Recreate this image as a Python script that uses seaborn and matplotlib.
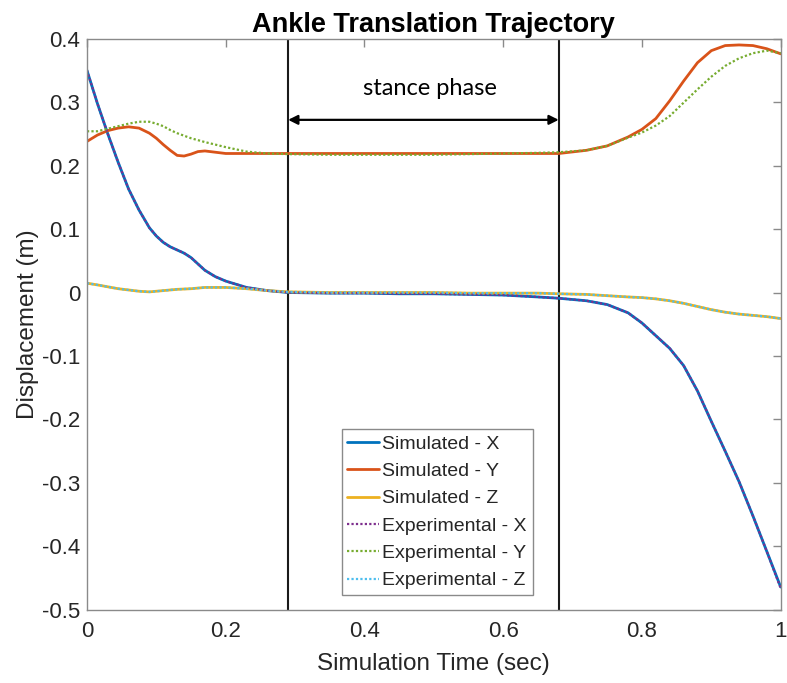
import matplotlib
matplotlib.use("Agg")
import matplotlib.pyplot as plt
import seaborn as sns
import pandas as pd

# ---------------- data ----------------
time = [0.0, 0.015, 0.03, 0.045, 0.06, 0.075, 0.09, 0.1, 0.11, 0.12, 0.13, 0.14, 0.15,
        0.16, 0.17, 0.185, 0.2, 0.23, 0.26, 0.29, 0.35, 0.4, 0.45, 0.5, 0.55, 0.6, 0.65,
        0.68, 0.72, 0.75, 0.78, 0.8, 0.82, 0.84, 0.86, 0.88, 0.9, 0.92, 0.94, 0.96, 0.98, 1.0]

sim_x = [0.350, 0.298, 0.250, 0.205, 0.163, 0.130, 0.102, 0.089, 0.079, 0.072, 0.067, 0.062,
         0.055, 0.045, 0.035, 0.025, 0.018, 0.008, 0.003, 0.000, -0.001, -0.001, -0.002,
         -0.002, -0.003, -0.004, -0.007, -0.009, -0.013, -0.019, -0.032, -0.048, -0.068,
         -0.088, -0.115, -0.155, -0.203, -0.250, -0.298, -0.352, -0.408, -0.464]
sim_y = [0.238, 0.248, 0.255, 0.259, 0.261, 0.259, 0.251, 0.243, 0.233, 0.224, 0.216, 0.215,
         0.218, 0.222, 0.223, 0.221, 0.219, 0.219, 0.219, 0.219, 0.219, 0.219, 0.219,
         0.219, 0.219, 0.219, 0.219, 0.219, 0.224, 0.231, 0.245, 0.257, 0.274, 0.302,
         0.333, 0.362, 0.381, 0.389, 0.390, 0.389, 0.384, 0.376]
sim_z = [0.0147, 0.012, 0.009, 0.006, 0.004, 0.002, 0.001, 0.002, 0.003, 0.004, 0.005, 0.0055,
         0.006, 0.007, 0.008, 0.008, 0.008, 0.006, 0.003, 0.001, 0.000, 0.000, 0.000,
         0.000, -0.001, -0.001, -0.001, -0.002, -0.003, -0.005, -0.007, -0.008, -0.010,
         -0.013, -0.017, -0.022, -0.027, -0.031, -0.034, -0.036, -0.038, -0.041]
exp_x = [0.350, 0.298, 0.250, 0.205, 0.163, 0.130, 0.102, 0.089, 0.079, 0.072, 0.067, 0.062,
         0.055, 0.045, 0.035, 0.025, 0.018, 0.008, 0.003, 0.000, -0.001, -0.001, -0.002,
         -0.002, -0.003, -0.004, -0.007, -0.009, -0.013, -0.019, -0.032, -0.048, -0.068,
         -0.088, -0.115, -0.155, -0.203, -0.250, -0.298, -0.352, -0.408, -0.466]
exp_y = [0.254, 0.254, 0.258, 0.262, 0.266, 0.269, 0.269, 0.266, 0.262, 0.256, 0.251, 0.247,
         0.243, 0.240, 0.237, 0.233, 0.229, 0.222, 0.219, 0.218, 0.217, 0.217, 0.217,
         0.217, 0.218, 0.219, 0.220, 0.221, 0.224, 0.231, 0.244, 0.252, 0.263, 0.278,
         0.299, 0.320, 0.340, 0.357, 0.369, 0.377, 0.381, 0.377]
exp_z = [0.0147, 0.012, 0.009, 0.006, 0.004, 0.002, 0.001, 0.002, 0.003, 0.004, 0.005, 0.0055,
         0.006, 0.007, 0.008, 0.008, 0.008, 0.006, 0.003, 0.001, 0.000, 0.000, 0.000,
         0.000, -0.001, -0.001, -0.001, -0.002, -0.003, -0.005, -0.007, -0.008, -0.010,
         -0.013, -0.017, -0.022, -0.027, -0.031, -0.034, -0.036, -0.038, -0.041]

labels = ["Simulated - X", "Simulated - Y", "Simulated - Z",
          "Experimental - X", "Experimental - Y", "Experimental - Z"]
colors = ["#0072BD", "#D95319", "#EDB120", "#7E2F8E", "#77AC30", "#4DBEEE"]

stance_start = 0.29
stance_end = 0.68

x_ticks = [0, 0.2, 0.4, 0.6, 0.8, 1.0]
x_tick_labels = ["0", "0.2", "0.4", "0.6", "0.8", "1"]
y_ticks = [-0.5, -0.4, -0.3, -0.2, -0.1, 0, 0.1, 0.2, 0.3, 0.4]
y_tick_labels = ["-0.5", "-0.4", "-0.3", "-0.2", "-0.1", "0", "0.1", "0.2", "0.3", "0.4"]

# ---------------- plot ----------------
sns.set_theme(style="white")
plt.rcParams["font.family"] = ["Liberation Sans", "DejaVu Sans"]

fig = plt.figure(figsize=(7.87, 6.83), dpi=100)
ax = fig.add_axes([0.1105, 0.107, 0.8815, 0.8365])

series = [sim_x, sim_y, sim_z, exp_x, exp_y, exp_z]
for i, (vals, lab, col) in enumerate(zip(series, labels, colors)):
    df = pd.DataFrame({"t": time, "v": vals})
    if i < 3:
        sns.lineplot(data=df, x="t", y="v", ax=ax, color=col, linewidth=2.0,
                     label=lab, linestyle="-")
    else:
        sns.lineplot(data=df, x="t", y="v", ax=ax, color=col, linewidth=1.6,
                     label=lab, linestyle=(0, (1, 1)))

for xs in (stance_start, stance_end):
    ax.axvline(xs, color="#1a1a1a", linewidth=1.5, zorder=1)

ax.annotate("", xy=(stance_start, 0.272), xytext=(stance_end, 0.272),
            arrowprops=dict(arrowstyle="<|-|>", color="black", lw=1.6,
                            mutation_scale=14, shrinkA=0, shrinkB=0))
ax.text(0.494, 0.321, "stance phase", ha="center",
        va="center", fontsize=17, family=["Lato", "DejaVu Sans"], color="black")

ax.set_xlim(0, 1)
ax.set_ylim(-0.5, 0.4)
ax.set_xticks(x_ticks)
ax.set_xticklabels(x_tick_labels)
ax.set_yticks(y_ticks)
ax.set_yticklabels(y_tick_labels)

frame = "#8a8a8a"
for sp in ax.spines.values():
    sp.set_color(frame)
    sp.set_linewidth(1.0)
ax.tick_params(direction="in", length=6, width=1, color=frame, top=True, right=True,
               labelsize=16, labelcolor="#262626")
ax.tick_params(axis="x", pad=8)
ax.tick_params(axis="y", pad=5)

ax.set_xlabel("Simulation Time (sec)", fontsize=17.5, color="#262626", labelpad=8)
ax.set_ylabel("Displacement (m)", fontsize=17.5, color="#262626", labelpad=2)
ax.set_title("Ankle Translation Trajectory", fontsize=19.5, fontweight="bold",
             color="black", pad=5)

leg = ax.legend(loc="upper left", bbox_to_anchor=(0.367, 0.316), fontsize=14,
                frameon=True, fancybox=False, framealpha=1, edgecolor="#8a8a8a",
                handlelength=1.6, handletextpad=0.2, labelspacing=0.5,
                borderpad=0.3, borderaxespad=0)
leg.get_frame().set_linewidth(1.0)

fig.savefig("out.png", dpi=100)
